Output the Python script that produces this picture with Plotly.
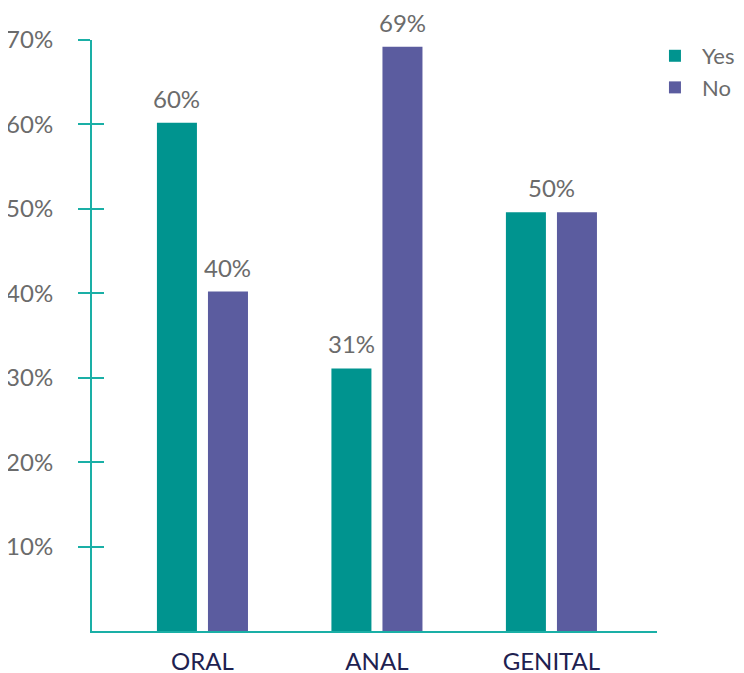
import plotly.graph_objects as go

categories = ["ORAL", "ANAL", "GENITAL"]
yes_values = [60.2, 31.1, 49.6]
no_values = [40.2, 69.2, 49.6]
yes_labels = ["60%", "31%", ""]
no_labels = ["40%", "69%", ""]
shared_label = ["", "", "50%"]
tick_vals = [10, 20, 30, 40, 50, 60, 70]
tick_text = ["10%", "20%", "30%", "40%", "50%", "60%", "70%"]

TEAL = "#00948F"
PURPLE = "#5B5C9F"
AXIS = "#1AAFA6"
GRAY = "#6B6B6B"
NAVY = "#1E2150"
FONT = "Lato, 'Open Sans', sans-serif"
LABEL_FONT = dict(size=24, color=GRAY, family=FONT)

x_idx = list(range(len(categories)))
offset = 0.146

fig = go.Figure()
fig.add_trace(go.Bar(name="Yes", x=x_idx, y=yes_values, marker=dict(color=TEAL, line=dict(width=0))))
fig.add_trace(go.Bar(name="No", x=x_idx, y=no_values, marker=dict(color=PURPLE, line=dict(width=0))))
# overlay axis for inside tick halves
fig.add_trace(go.Scatter(x=[x_idx[0]], y=[0], yaxis="y2", mode="markers",
                         marker=dict(opacity=0), showlegend=False, hoverinfo="skip"))

def add_label(x, y, text):
    fig.add_annotation(x=x, y=y, text=text, showarrow=False, yanchor="bottom",
                       yshift=8, font=LABEL_FONT)

for i in x_idx:
    if yes_labels[i]:
        add_label(i - offset, yes_values[i], yes_labels[i])
    if no_labels[i]:
        add_label(i + offset, no_values[i], no_labels[i])
    if shared_label[i]:
        add_label(i, max(yes_values[i], no_values[i]), shared_label[i])

fig.update_layout(
    width=736, height=665,
    margin=dict(l=84, r=87, t=32, b=42, autoexpand=False),
    paper_bgcolor="white", plot_bgcolor="white",
    barmode="group", bargap=0.415, bargroupgap=0.216,
    font=dict(family=FONT, size=24, color=GRAY),
    legend=dict(x=0.984, y=1.0085,
                xanchor="left", yanchor="top",
                font=dict(size=22, color=GRAY, family=FONT),
                itemwidth=44),
    xaxis=dict(tickmode="array", tickvals=x_idx, ticktext=categories,
               range=[-0.633, 2.605], showgrid=False, zeroline=False, automargin=False,
               showline=True, linecolor=AXIS, linewidth=2, ticks="",
               ticklabelstandoff=8,
               tickfont=dict(size=24, color=NAVY, family=FONT)),
    yaxis=dict(range=[0, 70], tickmode="array", tickvals=tick_vals, ticktext=tick_text,
               showgrid=False, zeroline=False, showline=True, linecolor=AXIS, linewidth=2,
               automargin=False,
               ticks="outside", ticklen=12, tickwidth=2, tickcolor=AXIS,
               ticklabelstandoff=20,
               tickfont=dict(size=24, color=GRAY, family=FONT)),
    yaxis2=dict(range=[0, 70], overlaying="y", side="left", tickmode="array",
                tickvals=tick_vals, showticklabels=False, showgrid=False, zeroline=False,
                automargin=False,
                showline=False, ticks="inside", ticklen=12, tickwidth=2, tickcolor=AXIS),
)

fig.write_html("out.html")
